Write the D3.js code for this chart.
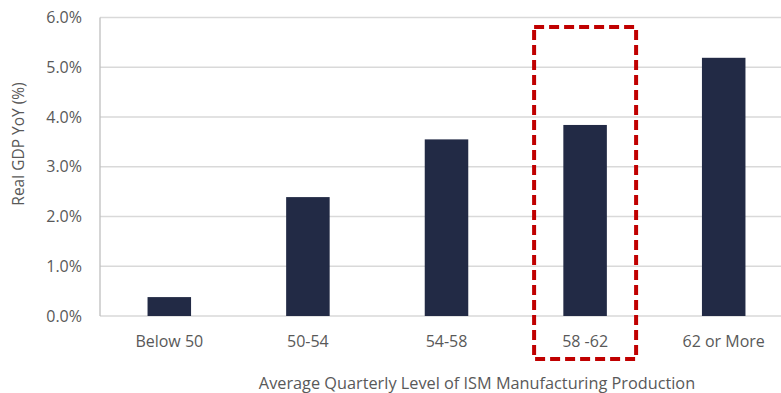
<!DOCTYPE html>
<html>
<head>
<meta charset="utf-8">
<script src="https://cdn.jsdelivr.net/npm/d3@7"></script>
<style>
html,body{margin:0;padding:0;background:#fff;overflow:hidden;}
text{font-family:"Open Sans",sans-serif;fill:#595959;}
</style>
</head>
<body>
<svg id="chart" width="781" height="393"></svg>
<script>
const categories = ["Below 50", "50-54", "54-58", "58 -62", "62 or More"];
const values = [0.38, 2.39, 3.55, 3.84, 5.19];
const yTicks = [0, 1, 2, 3, 4, 5, 6];
const highlighted = ["58 -62"];

const FONT = "'Open Sans',sans-serif";
const svg = d3.select("#chart");
const m = {left: 100, top: 17.5, right: -12, bottom: 77};
const W = 781, H = 393;

const x = d3.scaleBand().domain(categories).range([m.left, W - m.right]).paddingInner(0).paddingOuter(0);
const y = d3.scaleLinear().domain([0, 6]).range([H - m.bottom, m.top]);

// gridlines
svg.append("g").selectAll("line").data(yTicks).join("line")
  .attr("x1", m.left).attr("x2", W)
  .attr("y1", d => y(d)).attr("y2", d => y(d))
  .attr("stroke", "#d9d9d9").attr("stroke-width", 1.3);

// left axis line
svg.append("line").attr("x1", m.left).attr("x2", m.left)
  .attr("y1", y(6)).attr("y2", y(0)).attr("stroke", "#bfbfbf").attr("stroke-width", 1.3);

// y tick labels
const yAxis = d3.axisLeft(y).tickValues(yTicks).tickFormat(d => d.toFixed(1) + "%").tickSize(0).tickPadding(18);
const ga = svg.append("g").attr("transform", `translate(${m.left},0)`).call(yAxis);
ga.select(".domain").remove();
ga.selectAll("text").attr("font-size", 16).attr("fill", "#595959").attr("font-family", FONT);

// bars
const bw = x.bandwidth() * 0.314;
svg.append("g").selectAll("rect").data(values).join("rect")
  .attr("x", (d, i) => x(categories[i]) + x.bandwidth() / 2 - bw / 2)
  .attr("width", bw)
  .attr("y", d => y(d))
  .attr("height", d => y(0) - y(d))
  .attr("fill", "#222a45");

// x axis labels
const xAxis = d3.axisBottom(x).tickSize(0).tickPadding(19.5);
const gx = svg.append("g").attr("transform", `translate(0,${y(0)})`).call(xAxis);
gx.select(".domain").remove();
gx.selectAll("text").attr("font-size", 16).attr("fill", "#595959").attr("font-family", FONT);

// highlight box
highlighted.forEach(c => {
  const cx = x(c) + x.bandwidth() / 2;
  svg.append("rect")
    .attr("x", cx - 51).attr("y", 27)
    .attr("width", 102).attr("height", 332)
    .attr("fill", "none").attr("stroke", "#c00000").attr("stroke-width", 4)
    .attr("stroke-dasharray", "10,5");
});

// axis titles
svg.append("text").attr("x", 477).attr("y", 389).attr("text-anchor", "middle")
  .attr("font-size", 16.3).attr("font-family", FONT).text("Average Quarterly Level of ISM Manufacturing Production");
svg.append("text").attr("transform", "translate(24,144) rotate(-90)").attr("text-anchor", "middle")
  .attr("font-size", 15.5).attr("font-family", FONT).text("Real GDP YoY (%)");
</script>
</body>
</html>
